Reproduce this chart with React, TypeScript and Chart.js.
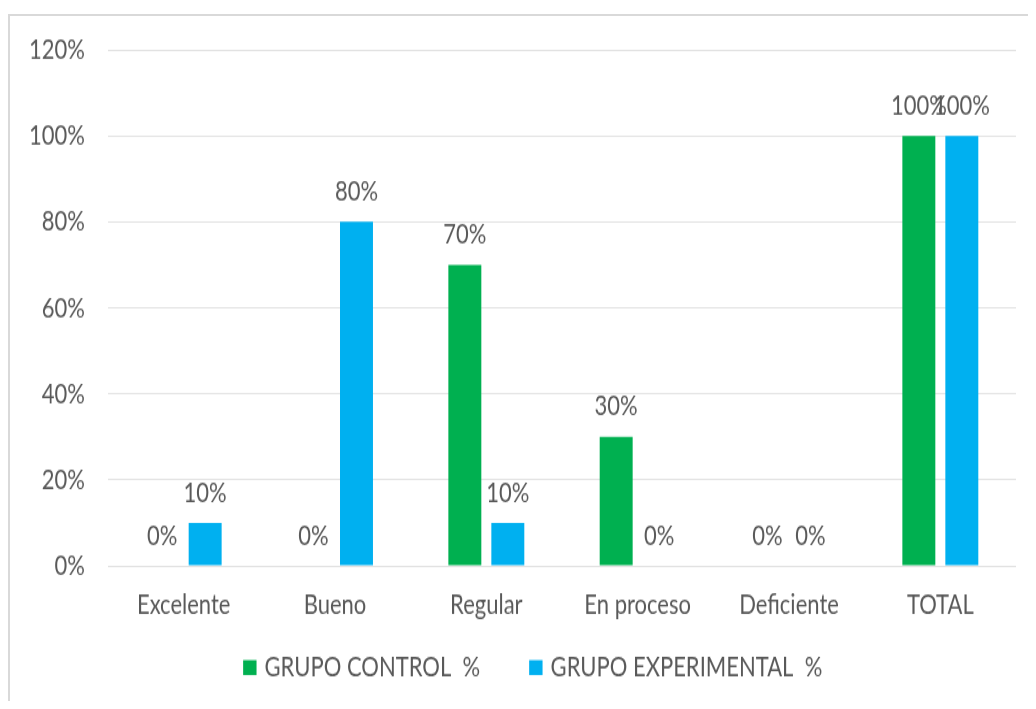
import React, { useEffect, useRef } from "react";
import { Chart, registerables } from "chart.js";

Chart.register(...registerables);

const categories = ["Excelente", "Bueno", "Regular", "En proceso", "Deficiente", "TOTAL"];
const controlValues = [0, 0, 70, 30, 0, 100];
const experimentalValues = [10, 80, 10, 0, 0, 100];
const seriesNames = ["GRUPO CONTROL  %", "GRUPO EXPERIMENTAL  %"];
const seriesColors = ["#00B050", "#00B0F0"];
const yMax = 120;
const yStep = 20;

// The reference picture is stretched vertically; we draw at a reduced
// internal height and let CSS stretch the canvas to the same aspect.
const CSS_W = 1026;
const CSS_H = 685;
const STRETCH = 1.3;
const INT_H = Math.round(CSS_H / STRETCH);

const FONT_FAMILY = "Lato, 'Open Sans', sans-serif";
const FONT_SIZE = 22;
const TEXT_COLOR = "#595959";

const dataLabelPlugin = {
  id: "dataLabels",
  afterDatasetsDraw(chart: any) {
    const ctx = chart.ctx;
    ctx.save();
    ctx.font = `${FONT_SIZE}px ${FONT_FAMILY}`;
    ctx.fillStyle = TEXT_COLOR;
    ctx.textAlign = "center";
    ctx.textBaseline = "middle";
    chart.data.datasets.forEach((ds: any, di: number) => {
      const meta = chart.getDatasetMeta(di);
      meta.data.forEach((el: any, i: number) => {
        ctx.fillText(`${ds.data[i]}%`, el.x, el.y - 23.5);
      });
    });
    ctx.restore();
  },
};

const legendPlugin = {
  id: "customLegend",
  afterDraw(chart: any) {
    const ctx = chart.ctx;
    ctx.save();
    ctx.font = `${FONT_SIZE}px ${FONT_FAMILY}`;
    ctx.textBaseline = "middle";
    ctx.textAlign = "left";
    const boxW = 13.4;
    const boxH = 11.5;
    const gap = 8;
    const itemGap = 49;
    const widths = seriesNames.map((n) => boxW + gap + ctx.measureText(n).width);
    const total = widths.reduce((a, b) => a + b, 0) + itemGap * (widths.length - 1);
    let x = chart.width / 2 + 9.7 - total / 2;
    const cy = 501;
    seriesNames.forEach((n, i) => {
      ctx.fillStyle = seriesColors[i];
      ctx.fillRect(x, cy - boxH / 2 + 0.3, boxW, boxH);
      ctx.fillStyle = TEXT_COLOR;
      ctx.fillText(n, x + boxW + gap, cy);
      x += widths[i] + itemGap;
    });
    ctx.restore();
  },
};

export default function App() {
  const canvasRef = useRef<HTMLCanvasElement>(null);

  useEffect(() => {
    const canvas = canvasRef.current;
    if (!canvas) return;
    const chart = new Chart(canvas, {
      type: "bar",
      data: {
        labels: categories,
        datasets: [
          {
            label: seriesNames[0],
            data: controlValues,
            backgroundColor: seriesColors[0],
            categoryPercentage: 0.568,
            barPercentage: 0.767,
          },
          {
            label: seriesNames[1],
            data: experimentalValues,
            backgroundColor: seriesColors[1],
            categoryPercentage: 0.568,
            barPercentage: 0.767,
          },
        ],
      },
      options: {
        responsive: false,
        animation: false,
        devicePixelRatio: 1,
        layout: { padding: { top: 26, right: 20, left: 0, bottom: 54 } },
        plugins: {
          legend: { display: false },
          tooltip: { enabled: false },
        },
        scales: {
          x: {
            grid: { display: false, drawTicks: false },
            border: { display: false },
            ticks: {
              color: TEXT_COLOR,
              font: { family: FONT_FAMILY, size: FONT_SIZE },
              padding: 17,
              maxRotation: 0,
              autoSkip: false,
            },
            afterFit(scale: any) {
              scale.height = 50;
            },
          },
          y: {
            min: 0,
            max: yMax,
            grid: { color: "#D9D9D9", lineWidth: 1 / STRETCH, drawTicks: false },
            border: { display: false },
            ticks: {
              stepSize: yStep,
              color: TEXT_COLOR,
              font: { family: FONT_FAMILY, size: FONT_SIZE },
              padding: 23,
              callback: (v: any) => `${v}%`,
            },
            afterFit(scale: any) {
              scale.width = 98;
              scale.paddingTop = 10;
              scale.paddingBottom = 10;
            },
          },
        },
      },
      plugins: [dataLabelPlugin, legendPlugin],
    });
    return () => chart.destroy();
  }, []);

  return (
    <div style={{ position: "relative", width: 1028, height: 693, overflow: "hidden" }}>
      <div
        style={{
          position: "absolute",
          left: 0,
          top: 6,
          width: 1200,
          height: 1000,
          borderTop: "2px solid #D9D9D9",
          borderLeft: "2px solid #D9D9D9",
          boxSizing: "border-box",
        }}
      />
      <canvas
        ref={canvasRef}
        width={CSS_W}
        height={INT_H}
        style={{ position: "absolute", left: 2, top: 8, width: CSS_W, height: CSS_H }}
      />
    </div>
  );
}
